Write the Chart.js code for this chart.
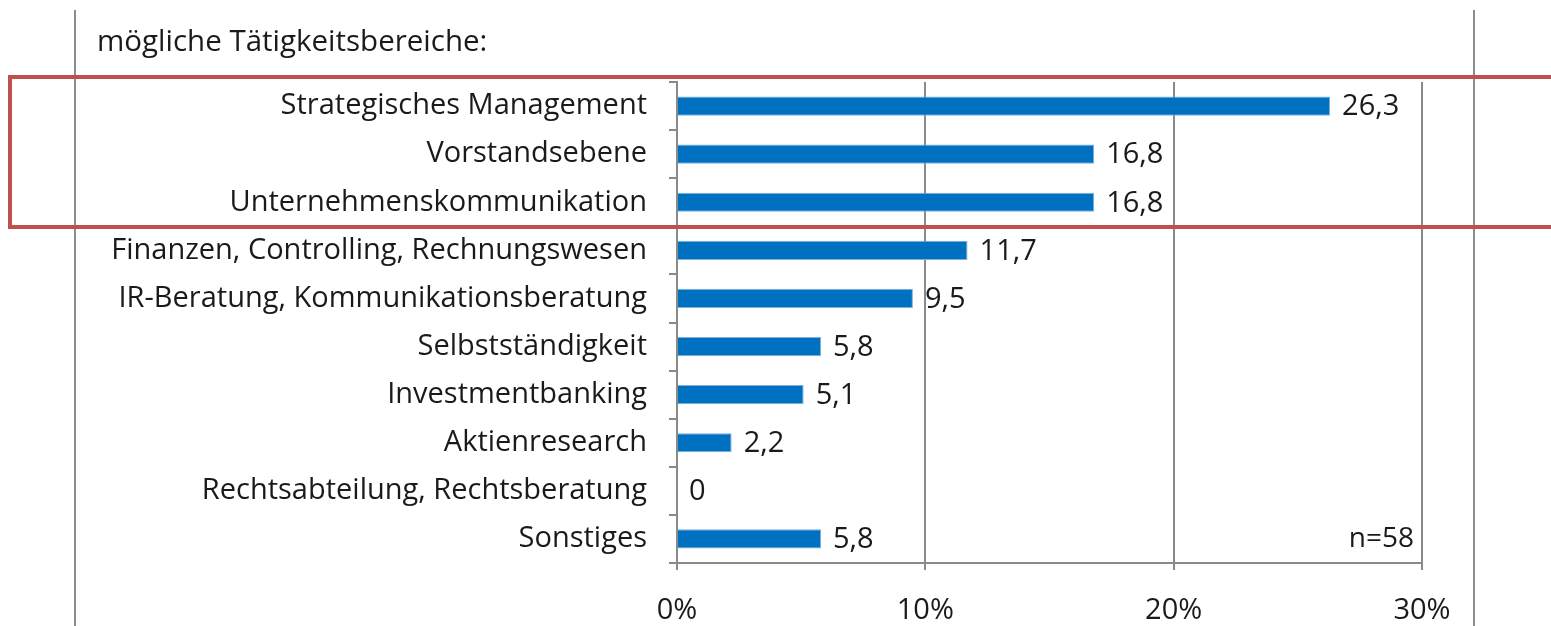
<!DOCTYPE html>
<html>
<head>
<meta charset="utf-8">
<script src="https://cdn.jsdelivr.net/npm/chart.js@4"></script>
<style>
  html, body { margin: 0; padding: 0; background: #fff; }
  #wrap { width: 1551px; height: 626px; }
</style>
</head>
<body>
<div id="wrap"><canvas id="barChart" width="1551" height="626"></canvas></div>
<script>
const categories = [
  'Strategisches Management',
  'Vorstandsebene',
  'Unternehmenskommunikation',
  'Finanzen, Controlling, Rechnungswesen',
  'IR-Beratung, Kommunikationsberatung',
  'Selbstständigkeit',
  'Investmentbanking',
  'Aktienresearch',
  'Rechtsabteilung, Rechtsberatung',
  'Sonstiges'
];
const shares = [26.3, 16.8, 16.8, 11.7, 9.5, 5.8, 5.1, 2.2, 0, 5.8];
const xTicks = [0, 10, 20, 30];
const title = 'mögliche Tätigkeitsbereiche:';
const sampleNote = 'n=58';

const FONT = "'Open Sans', sans-serif";
const GRID = '#8a8a8a';

// frame lines, highlight box, title, value labels
const decor = {
  id: 'decor',
  afterDraw(chart) {
    const ctx = chart.ctx;
    const area = chart.chartArea;
    ctx.save();
    ctx.strokeStyle = '#8c8c8c';
    ctx.lineWidth = 2;
    [75, 1474].forEach(x => {
      ctx.beginPath();
      ctx.moveTo(x, 10);
      ctx.lineTo(x, 626);
      ctx.stroke();
    });

    ctx.fillStyle = '#1a1a1a';
    ctx.font = '29.5px ' + FONT;
    ctx.textBaseline = 'middle';
    ctx.textAlign = 'left';
    ctx.fillText(title, 97, 43);

    // value labels
    ctx.font = '29px ' + FONT;
    const meta = chart.getDatasetMeta(0);
    meta.data.forEach((bar, i) => {
      ctx.fillText(String(shares[i]).replace('.', ','), bar.x + 12, bar.y + 1);
    });

    ctx.font = '28px ' + FONT;
    ctx.textAlign = 'right';
    ctx.fillText(sampleNote, area.right - 8, meta.data[meta.data.length - 1].y);

    // red highlight around top three rows
    ctx.strokeStyle = '#C0504D';
    ctx.lineWidth = 4;
    ctx.strokeRect(10, 77, 1600, 150);
    ctx.restore();
  }
};

new Chart(document.getElementById('barChart').getContext('2d'), {
  type: 'bar',
  data: {
    labels: categories,
    datasets: [{
      data: shares,
      backgroundColor: '#0070C0',
      borderColor: '#7fb0dc',
      borderWidth: 1,
      barPercentage: 0.4,
      categoryPercentage: 1
    }]
  },
  options: {
    indexAxis: 'y',
    responsive: false,
    animation: false,
    layout: {
      padding: { left: 0, right: 129, top: 82, bottom: 0 }
    },
    plugins: {
      legend: { display: false },
      tooltip: { enabled: false }
    },
    scales: {
      x: {
        min: 0,
        max: 30,
        afterBuildTicks(scale) {
          scale.ticks = xTicks.map(v => ({ value: v }));
        },
        afterFit(scale) {
          scale.height = 63;
        },
        grid: {
          color: GRID,
          lineWidth: 2,
          tickLength: 7
        },
        border: { color: GRID, width: 2 },
        ticks: {
          color: '#1a1a1a',
          font: { family: FONT, size: 29 },
          padding: 23,
          callback: v => v + '%'
        }
      },
      y: {
        afterFit(scale) {
          scale.width = 677;
        },
        grid: {
          drawOnChartArea: false,
          color: GRID,
          lineWidth: 2,
          tickLength: 8
        },
        border: { color: GRID, width: 2 },
        ticks: {
          color: '#1a1a1a',
          font: { family: FONT, size: 29 },
          padding: 22
        }
      }
    }
  },
  plugins: [decor]
});
</script>
</body>
</html>
